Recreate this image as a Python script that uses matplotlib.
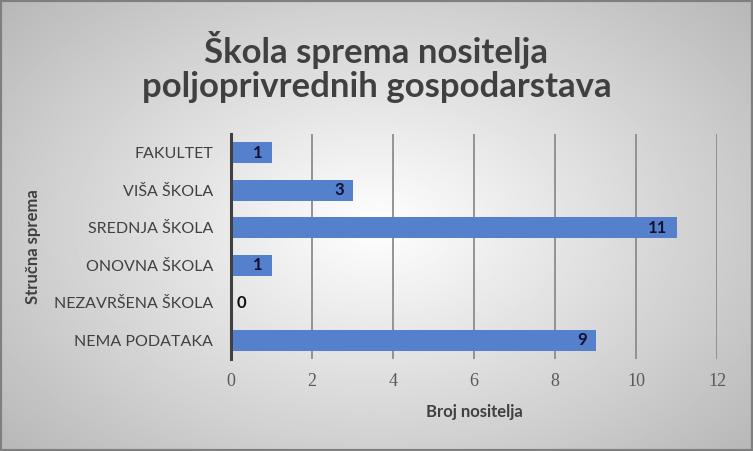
import numpy as np
import matplotlib.pyplot as plt

categories = ['FAKULTET', 'VIŠA ŠKOLA', 'SREDNJA ŠKOLA', 'ONOVNA ŠKOLA',
              'NEZAVRŠENA ŠKOLA', 'NEMA PODATAKA']
values = [1, 3, 11, 1, 0, 9]
xticks = [0, 2, 4, 6, 8, 10, 12]

fig = plt.figure(figsize=(7.53, 4.51), dpi=100)

# radial gray background
bg = fig.add_axes([0, 0, 1, 1], zorder=-1)
yy, xx = np.mgrid[-1:1:300j, -1:1:500j]
r = np.sqrt((xx * 0.9) ** 2 + (yy * 0.8) ** 2)
bg.imshow(1 - 0.28 * np.clip(r, 0, 1.2) / 1.2, cmap='gray', vmin=0, vmax=1,
          aspect='auto', extent=[0, 1, 0, 1])
bg.set_axis_off()
bg.add_patch(plt.Rectangle((0, 0), 1, 1, transform=bg.transAxes, fill=False,
                           edgecolor='#7f7f7f', lw=3))

ax = fig.add_axes([231 / 753, 1 - 359 / 451, (717 - 231) / 753, (359 - 134) / 451])
ax.set_facecolor('none')

y = np.arange(len(categories))
bars = ax.barh(y, values, height=0.56, color='#5580cc', zorder=3)
ax.set_ylim(len(categories) - 0.5, -0.5)
ax.set_xlim(0, 12)

for yi, v in zip(y, values):
    if v > 0:
        ax.text(v - 0.22, yi, str(v), ha='right', va='center', fontsize=12,
                fontweight='bold', color='#111133', family='Lato', zorder=4)
    else:
        ax.text(0.25, yi, str(v), ha='center', va='center', fontsize=12,
                fontweight='bold', color='#111111', family='Lato', zorder=4)

ax.set_xticks(xticks)
ax.set_xticklabels([str(t) for t in xticks], family='Liberation Serif',
                   fontsize=13, color='#595959')
ax.set_yticks(y)
ax.set_yticklabels(categories, family='Lato', fontsize=11.5, color='#404040')
ax.tick_params(length=0, axis='y', pad=13)
ax.tick_params(length=0, axis='x', pad=10)
ax.grid(axis='x', color='#8c8c8c', lw=1.3, zorder=1)
for s in ['top', 'right', 'bottom']:
    ax.spines[s].set_visible(False)
ax.spines['left'].set_color('#404040')
ax.spines['left'].set_linewidth(2.2)
ax.spines['left'].set_zorder(5)

ax.set_xlabel('Broj nositelja', family='Lato', fontsize=12, fontweight='bold',
              color='#404040', labelpad=10)
ax.set_ylabel('Stručna sprema', family='Lato', fontsize=12, fontweight='bold',
              color='#404040', labelpad=9)

fig.text(0.5, 1 - 67 / 451, 'Škola sprema nositelja\npoljoprivrednih gospodarstava',
         ha='center', va='center', family='Lato', fontsize=25, fontweight='bold',
         color='#404040', linespacing=1.1)

fig.savefig('out.png', dpi=100)
